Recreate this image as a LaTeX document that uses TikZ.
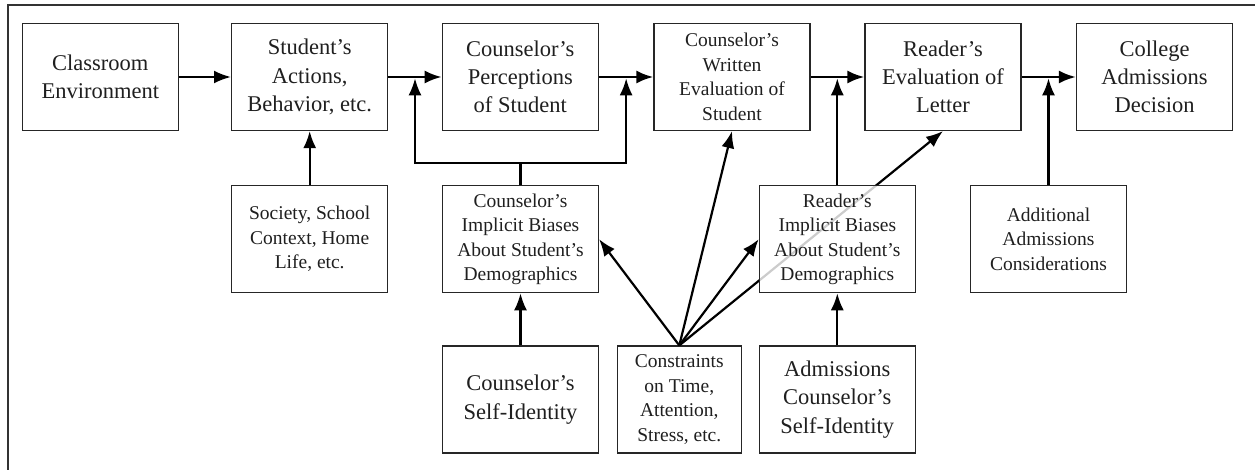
\documentclass[tikz,border=0pt]{standalone}
\usepackage{fontspec}
\setmainfont{Liberation Serif}
\usetikzlibrary{arrows.meta,
		backgrounds}

\begin{document}
\begin{tikzpicture}[x=1pt, y=-1pt,
  box/.style={draw=black!85, line width=1.2pt, text=black!88, align=center,
    minimum width=156pt, minimum height=107pt, inner sep=2pt,
    font=\fontsize{22.5}{28.3}\selectfont},
  small/.style={font=\fontsize{19.5}{24.5}\selectfont},
  flow/.style={line width=2.2pt, -{Latex[length=17pt, width=13pt]}},
  main/.style={flow, line width=2.6pt}]

\useasboundingbox (0,0) rectangle (1255,470);
\draw [line width=1.3pt, black!80] (8,470) -- (8,5) -- (1255,5);

\node [box] (env) at (100.3,77) {Classroom\\Environment};
\node [box] (act) at (309.7,77) {Student's\\Actions,\\Behavior, etc.};
\node [box] (perc) at (520.3,77) {Counselor's\\Perceptions\\of Student};
\node [box, small] (written) at (732,77) {Counselor's\\Written\\Evaluation of\\Student};
\node [box] (readeval) at (943,77) {Reader's\\Evaluation of\\Letter};
\node [box] (decision) at (1154.5,77) {College\\Admissions\\Decision};

\node [box, small] (context) at (309.7,239.2) {Society, School\\Context, Home\\Life, etc.};
\node [box, small] (cbias) at (520.5,239.2) {Counselor's\\Implicit Biases\\About Student's\\Demographics};
\node [box, small, fill=white, fill opacity=.8, text opacity=1] (rbias) at (837.3,239.2)
  {Reader's\\Implicit Biases\\About Student's\\Demographics};
\node [box, small] (extra) at (1048.5,239.2) {Additional\\Admissions\\Considerations};

\node [box] (cself) at (520.5,399.5) {Counselor's\\Self-Identity};
\node [box, small, minimum width=124pt] (limits) at (679.3,399.5) {Constraints\\on Time,\\Attention,\\Stress, etc.};
\node [box] (aself) at (837.3,399.5) {Admissions\\Counselor's\\Self-Identity};

\draw [main] (env) -- (act);
\draw [main] (act) -- coordinate (j1) (perc);
\draw [main] (perc) -- coordinate (j2) (written);
\draw [main] (written) -- coordinate (j3) (readeval);
\draw [main] (readeval) -- coordinate (j4) (decision);

\draw [flow] (context) -- (act);
\coordinate (fork) at (520.5,163);
\draw [flow] (cbias.north) -- (fork) -| ([yshift=-1.3pt]j1);
\draw [flow] (fork) -| ([yshift=-1.3pt]j2);
\draw [flow] (rbias.north) -- ([yshift=-1.3pt]rbias.north |- j3);
\draw [flow] (extra.north) -- ([yshift=-1.3pt]extra.north |- j4);

\draw [flow] (cself) -- (cbias);
\draw [flow] (aself) -- (rbias);

\draw [flow] (limits.north) -- (cbias.east);
\draw [flow] (limits.north) -- (written.south);
\draw [flow] (limits.north) -- (rbias.west);
\begin{scope}[on background layer]
\draw [flow] (limits.north) -- (readeval.south);
\end{scope}

\end{tikzpicture}
\end{document}
